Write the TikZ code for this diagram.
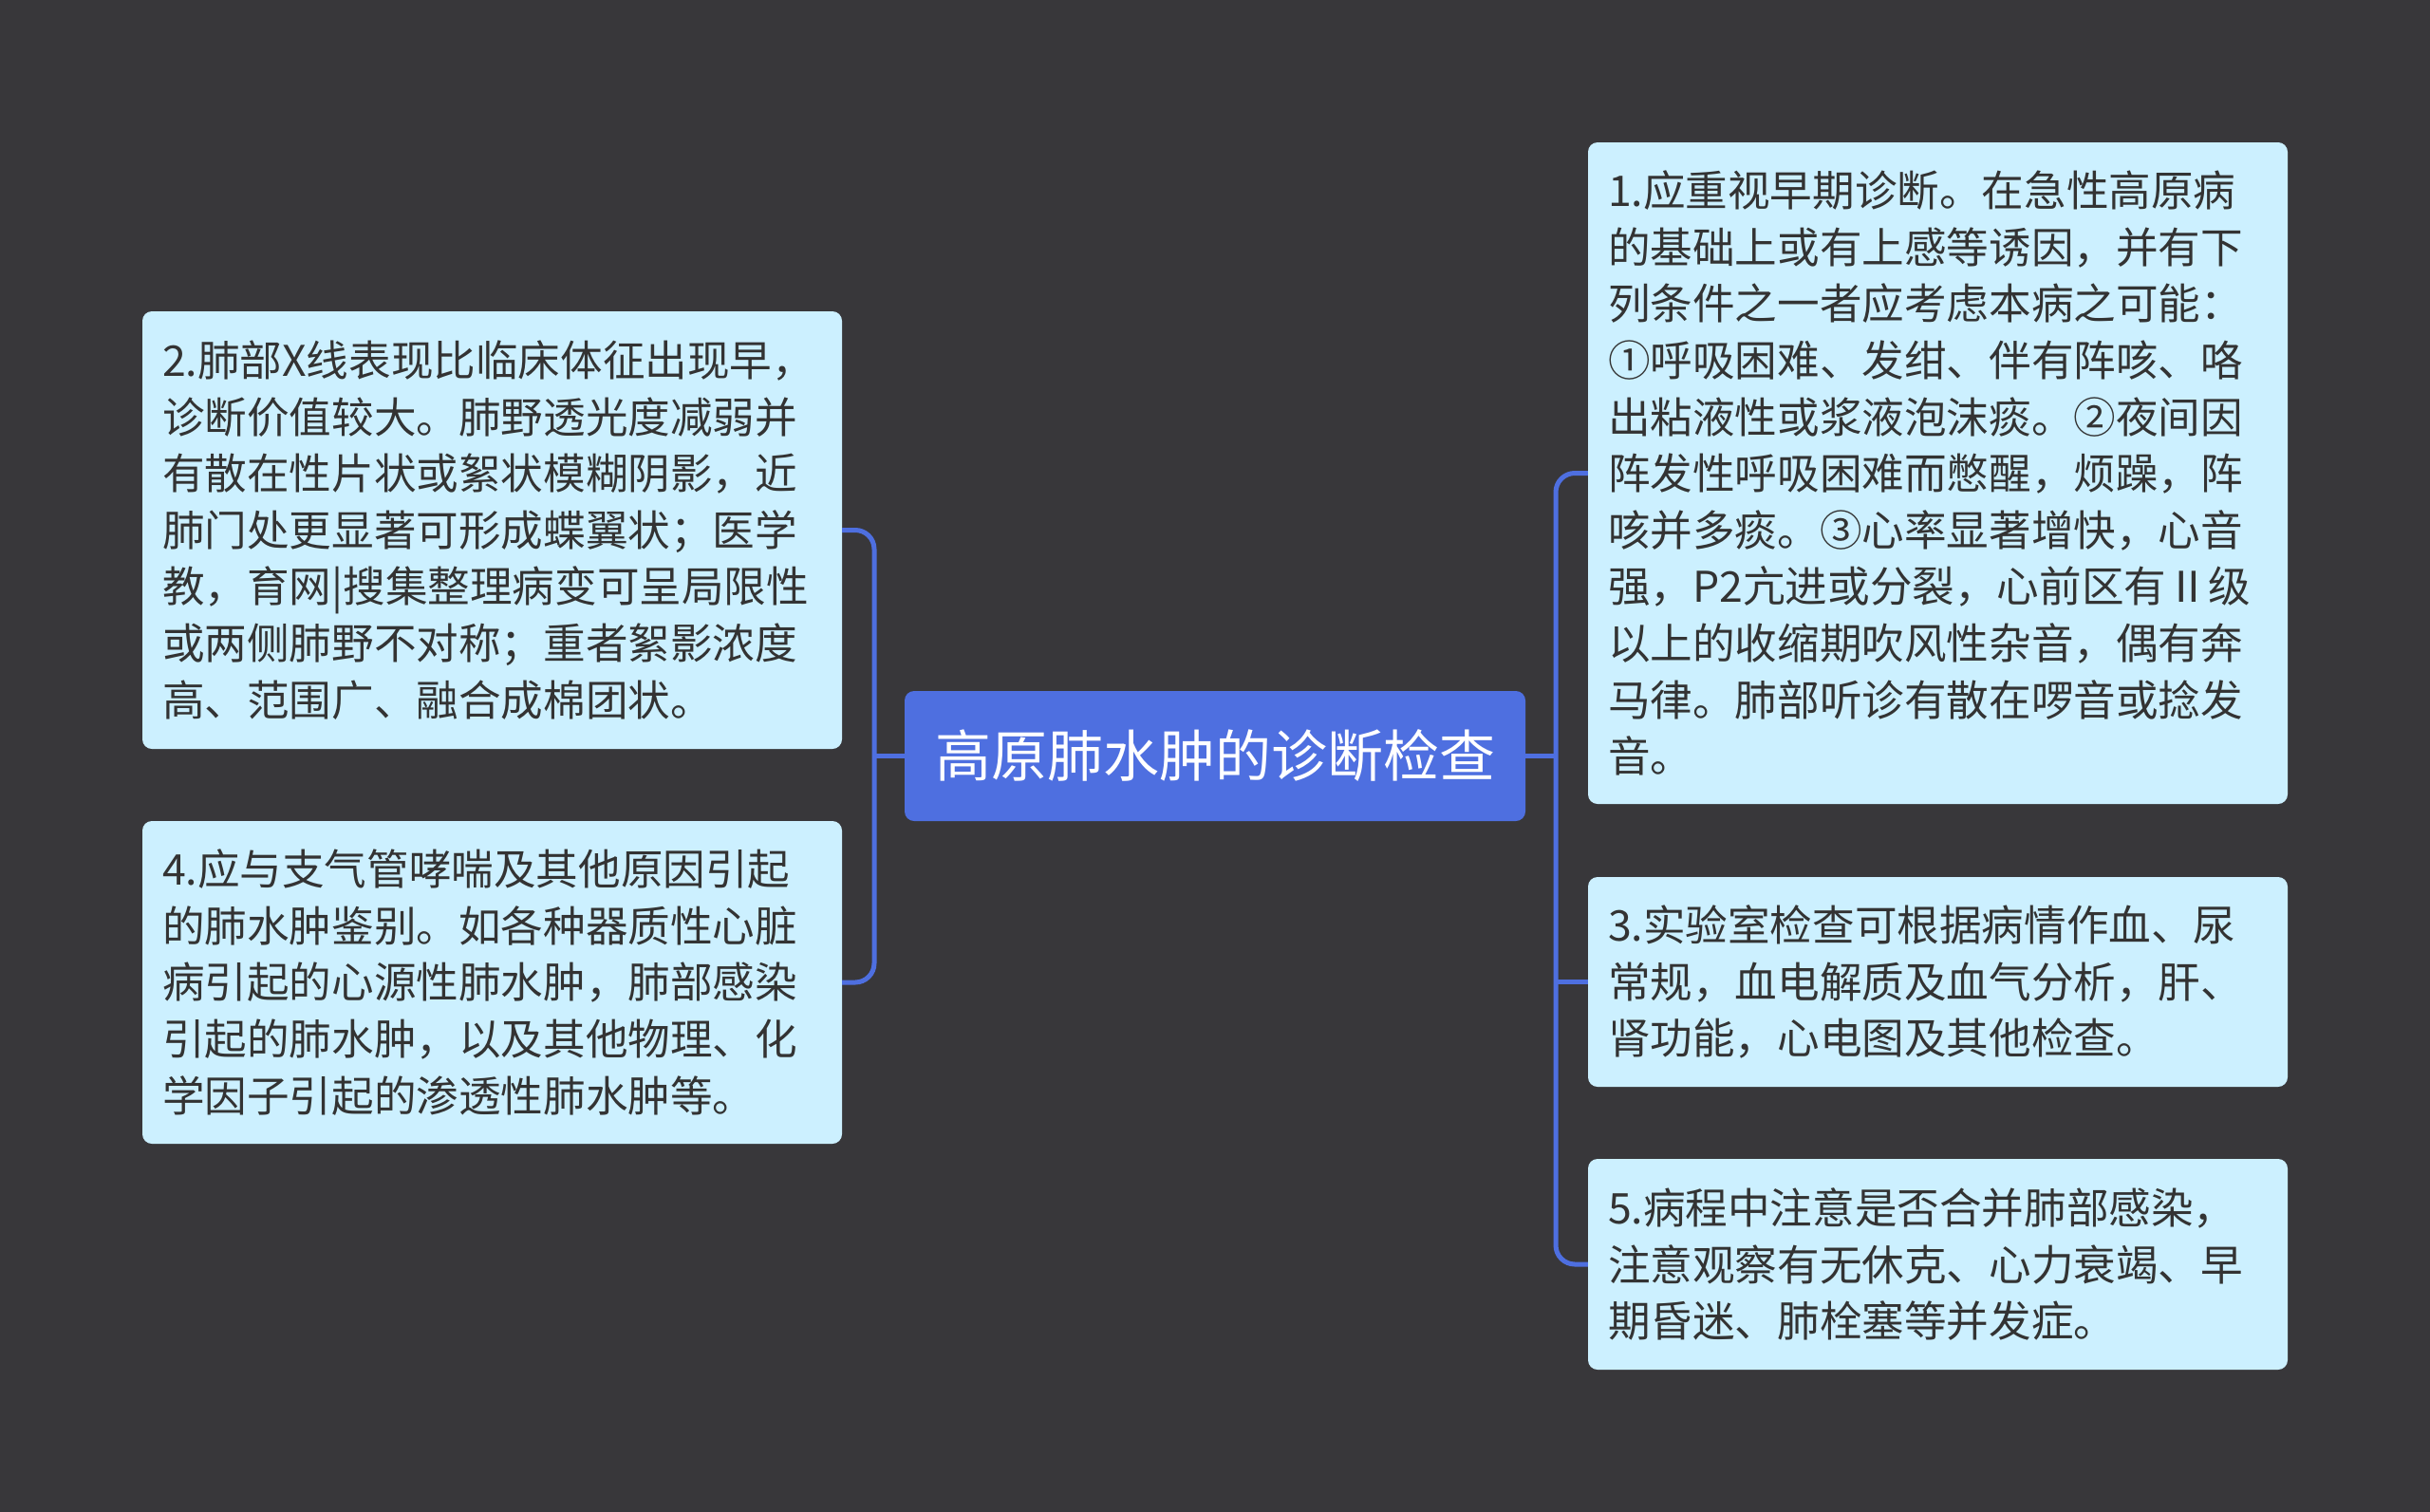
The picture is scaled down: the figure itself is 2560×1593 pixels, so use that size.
\documentclass[tikz,border=0pt]{standalone}
\usepackage{fontspec}
\newfontfamily\cjk{Noto Sans CJK SC}
\definecolor{bgc}{RGB}{56,55,58}
\definecolor{mainblue}{RGB}{78,111,224}
\definecolor{boxfill}{RGB}{204,240,255}
\definecolor{txt}{RGB}{51,51,51}
\tikzset{
  conn/.style={draw=mainblue, line width=5pt},
  leafbox/.style={fill=boxfill, rounded corners=10pt, text=txt, align=left,
    text width=695pt, inner xsep=21pt, inner ysep=0pt, minimum width=737pt,
    font=\cjk\fontsize{44.6}{59.6}\selectfont},
  rootbox/.style={fill=mainblue, rounded corners=10pt, text=white,
    minimum width=654pt, minimum height=137pt, inner sep=0pt,
    font=\cjk\fontsize{59}{70}\selectfont}
}
\begin{document}
\begin{tikzpicture}[x=1pt,y=-1pt]
\fill[bgc] (0,0) rectangle (2560,1593);
\useasboundingbox (0,0) rectangle (2560,1593);

\coordinate (jl) at (921,796.5);
\coordinate (jr) at (1639,796.5);

\node[rootbox] (c) at (1280,796.5) {高原肺水肿的诊断检查};

\node[leafbox, minimum height=461pt] (b2) at (518.5,558.5) {2.肺部X线表现比临床体征出现早，\\
诊断价值较大。肺野透光度减弱并\\
有散在性片状或絮状模糊阴影，近\\
肺门处更显著可形成蝶翼状；医学\\
教，育网|搜集整理病变可呈局限性\\
或两侧肺野不对称；重者絮影浓度\\
高、范围广、融合成棉团状。};

\node[leafbox, minimum height=340pt] (b4) at (518.5,1035) {4.应与支气管哮喘及其他原因引起\\
的肺水肿鉴别。如各种器质性心脏\\
病引起的心源性肺水肿，肺部感染\\
引起的肺水肿，以及其他物理、化\\
学因子引起的渗透性肺水肿等。};

\node[leafbox, minimum height=697pt] (b1) at (2041.5,498.5) {1.应重视早期诊断。在急性高原病\\
的基础上或有上感等诱因，并有下\\
列条件之一者应考虑本病之可能：\\
①呼吸困难、发绀、伴有阵咳、咯\\
出粘液性或浆液泡沫痰。②夜间因\\
阵发性呼吸困难而憋醒，烦躁，阵\\
咳并多痰。③心率显著增快，心音\\
强，P2亢进或分裂，心前区有Ⅱ级\\
以上的收缩期吹风性杂音，偶有奔\\
马律。肺部听诊有散在啰音或捻发\\
音。};

\node[leafbox, minimum height=221pt] (b3) at (2041.5,1034.5) {3.实验室检查可根据病情作血、尿\\
常规，血电解质及血气分析，肝、\\
肾功能，心电图及其他检查。};

\node[leafbox, minimum height=222pt] (b5) at (2041.5,1332) {5.病程中注意是否合并肺部感染，\\
注意观察有无休克、心力衰竭、早\\
期昏迷、肺栓塞等并发症。};

\begin{scope}[on background layer/.try]
\end{scope}
\draw[conn, rounded corners=20pt] (b2.east) -| (jl) |- (b4.east);
\draw[conn] (c.west) -- (jl);
\draw[conn, rounded corners=20pt] (b1.west) -| (jr) |- (b5.west);
\draw[conn] (c.east) -- (jr);
\draw[conn] (b3.west) -- (b3.west -| jr);
\end{tikzpicture}
\end{document}
